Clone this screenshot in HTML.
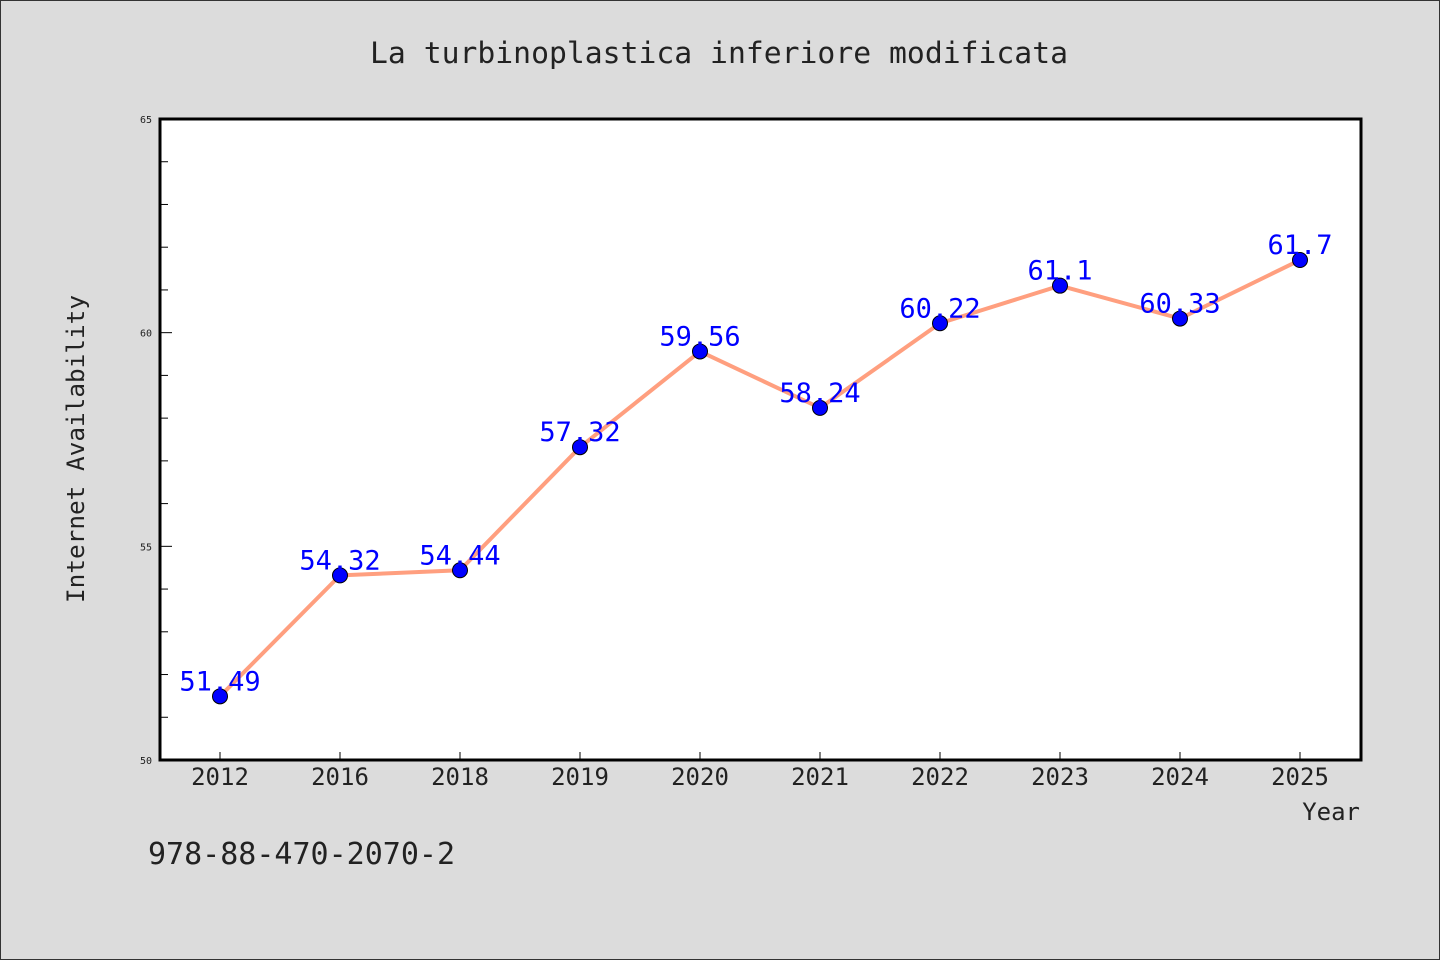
<!DOCTYPE html>
<html><head><meta charset="utf-8"><style>
body{margin:0;background:#dcdcdc;}
svg{display:block;font-family:"WenQuanYi Zen Hei Mono","DejaVu Sans Mono","Liberation Mono",monospace;}
</style></head><body>
<svg width="1440" height="960">
<rect x="0.5" y="0.5" width="1439" height="959" fill="#dcdcdc" stroke="#333"/>
<text x="719" y="63" text-anchor="middle" font-size="29" fill="#222" textLength="698" lengthAdjust="spacingAndGlyphs">La turbinoplastica inferiore modificata</text>
<rect x="160" y="119" width="1201" height="641" fill="#fff" stroke="#000" stroke-width="3"/>
<g id="yaxis"></g>
<g id="xaxis"></g>
<g id="series"></g>
<text transform="translate(84,449) rotate(-90)" text-anchor="middle" font-size="24" fill="#222" textLength="308" lengthAdjust="spacingAndGlyphs">Internet Availability</text>
<text x="1360" y="820" text-anchor="end" font-size="24" fill="#222">Year</text>
<text x="148" y="864" font-size="30" fill="#222" textLength="307" lengthAdjust="spacingAndGlyphs">978-88-470-2070-2</text>
</svg>
<script>
const categories=["2012","2016","2018","2019","2020","2021","2022","2023","2024","2025"];
const values=[51.49,54.32,54.44,57.32,59.56,58.24,60.22,61.1,60.33,61.7];
const labels=["51.49","54.32","54.44","57.32","59.56","58.24","60.22","61.1","60.33","61.7"];
const yTicks=[50,55,60,65];
const NS="http://www.w3.org/2000/svg";
const X0=160,X1=1361,Y0=760,Y1=119,YMIN=50,YMAX=65;
const xs=i=>220+i*(1080/(categories.length-1));
const ys=v=>Y0-(v-YMIN)/(YMAX-YMIN)*(Y0-Y1);
function mk(t,a,p){const e=document.createElementNS(NS,t);for(const k in a)e.setAttribute(k,a[k]);p.appendChild(e);return e;}
const ya=document.getElementById('yaxis'),xa=document.getElementById('xaxis'),se=document.getElementById('series');
for(let v=YMIN;v<=YMAX;v++){
  const major=yTicks.includes(v);
  const l=mk('line',{x1:X0,x2:X0+(major?12:8),y1:ys(v),y2:ys(v),stroke:'#000','stroke-width':1},ya);
  
  
}
yTicks.forEach(v=>{
  const t=mk('text',{x:X0-8,y:ys(v)+4,'text-anchor':'end','font-size':10,fill:'#222'},ya);
  t.textContent=v;
  
  
});
categories.forEach((c,i)=>{
  const l=mk('line',{x1:xs(i),x2:xs(i),y1:Y0,y2:Y0-8,stroke:'#000','stroke-width':1},xa);
  
  
  const t=mk('text',{x:xs(i),y:785,'text-anchor':'middle','font-size':24,fill:'#222'},xa);
  t.textContent=c;
  
  
});
const pl=mk('polyline',{points:values.map((v,i)=>xs(i)+','+ys(v)).join(' '),fill:'none',stroke:'#ff9f7f','stroke-width':4,'stroke-linejoin':'round'},se);


values.forEach((v,i)=>{
  const c=mk('circle',{cx:xs(i),cy:ys(v),r:7.5,fill:'#0000ff',stroke:'#000','stroke-width':1},se);
  
  
});
values.forEach((v,i)=>{
  const t=mk('text',{x:xs(i),y:ys(v)-6,'text-anchor':'middle','font-size':27,fill:'#0000ff'},se);
  t.textContent=labels[i];
  
  
});
</script>
</body></html>
